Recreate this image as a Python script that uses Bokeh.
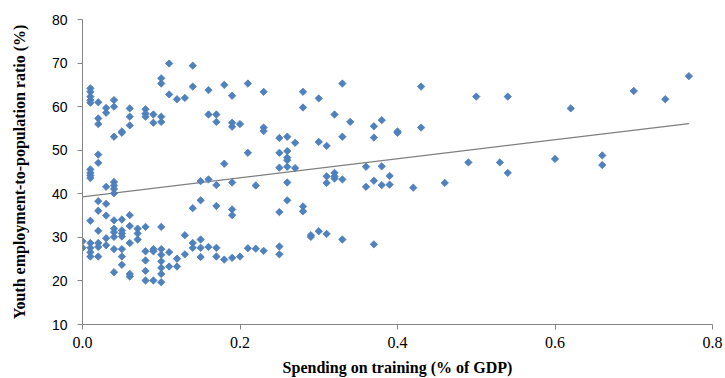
import math
from bokeh.plotting import figure
from bokeh.models import Range1d, ColumnDataSource, FixedTicker, PrintfTickFormatter
from bokeh.embed import file_html
from bokeh.resources import INLINE

# Spending on training (% of GDP) and youth employment-to-population ratio (%)
x_spend = (
    [0.00] * 2 + [0.01] * 14 + [0.02] * 11 + [0.03] * 7 + [0.04] * 13 + [0.05] * 9
    + [0.06] * 8 + [0.07] * 3 + [0.08] * 8 + [0.09] * 5 + [0.10] * 11 + [0.11] * 4
    + [0.12] * 3 + [0.13] * 3 + [0.14] * 5 + [0.15] * 5 + [0.16] * 4 + [0.17] * 6
    + [0.18] * 3 + [0.19] * 7 + [0.20] * 2 + [0.21] * 3 + [0.22] * 2 + [0.23] * 4
    + [0.25] * 6 + [0.26] * 7 + [0.27] * 2 + [0.28] * 4 + [0.29] * 2 + [0.30] * 3
    + [0.31] * 4 + [0.32] * 4 + [0.33] * 4 + [0.34] * 1 + [0.36] * 2 + [0.37] * 4
    + [0.38] * 3 + [0.39] * 2 + [0.40] * 2 + [0.42] * 1 + [0.43] * 2 + [0.46] * 1
    + [0.49] * 1 + [0.50] * 1 + [0.53] * 1 + [0.54] * 2 + [0.60] * 1 + [0.62] * 1
    + [0.66] * 2 + [0.70] * 1 + [0.74] * 1 + [0.77] * 1
)
y_youth = [
    29.1, 27.6,
    64.2, 63.4, 62.3, 61.5, 60.9, 45.6, 44.8, 44.2, 43.6, 33.8, 28.7, 27.6, 26.6, 25.6,
    61.0, 57.3, 56.0, 49.0, 47.1, 38.3, 36.1, 31.5, 28.7, 27.8, 25.6,
    59.7, 58.6, 41.6, 37.7, 35.0, 29.8, 28.2,
    61.5, 60.0, 53.1, 42.7, 41.9, 41.1, 40.1, 33.9, 32.0, 31.2, 30.1, 27.3, 22.0,
    54.0, 54.3, 34.1, 31.6, 30.9, 30.2, 27.3, 25.6, 23.7,
    59.6, 57.7, 55.7, 35.1, 32.6, 28.7, 21.6, 21.0,
    32.0, 30.9, 29.5,
    59.4, 58.4, 57.7, 32.4, 26.8, 24.7, 22.3, 20.1,
    58.2, 56.3, 27.3, 26.8, 20.1,
    66.5, 65.3, 57.7, 56.5, 32.4, 27.3, 26.0, 24.5, 23.0, 21.6, 19.7,
    69.9, 62.8, 26.6, 23.3,
    61.7, 25.1, 23.3,
    62.0, 30.5, 26.1,
    69.4, 64.6, 36.7, 28.7, 27.6,
    42.9, 38.5, 29.5, 27.6, 25.5,
    63.8, 58.2, 43.3, 27.8,
    58.2, 56.5, 42.0, 37.2, 27.6, 25.6,
    65.0, 46.9, 24.9,
    62.5, 56.3, 55.4, 42.6, 36.4, 35.1, 25.3,
    56.0, 25.6,
    65.3, 49.4, 27.5,
    41.9, 27.4,
    63.4, 55.2, 54.4, 26.9,
    52.8, 49.4, 46.0, 35.8, 27.9, 26.1,
    53.1, 49.8, 48.3, 47.7, 46.2, 42.6, 38.5,
    51.7, 45.9,
    63.4, 59.8, 37.1, 36.0,
    30.5, 30.1,
    61.9, 51.9, 31.4,
    51.0, 44.0, 42.5, 30.8,
    58.2, 44.8, 44.0, 43.5,
    65.3, 53.1, 43.3, 29.5,
    56.5,
    46.2, 41.6,
    55.5, 52.9, 43.0, 28.4,
    56.9, 46.3, 42.0,
    44.1, 42.1,
    54.3, 54.0,
    41.4,
    64.6, 55.2,
    42.5,
    47.2,
    62.3,
    47.2,
    62.3, 44.8,
    48.0,
    59.6,
    48.8, 46.6,
    63.6,
    61.7,
    67.0,
]

# Linear trend line
trend_x = [0.0, 0.77]
trend_y = [39.3, 56.1]

x_ticks = [0.0, 0.2, 0.4, 0.6, 0.8]
y_ticks = [10, 20, 30, 40, 50, 60, 70, 80]

p = figure(
    width=725, height=378,
    x_range=Range1d(0, 0.8), y_range=Range1d(10, 80),
    output_backend="svg", toolbar_location=None,
    min_border_left=82, min_border_right=13, min_border_top=19, min_border_bottom=54,
)
p.background_fill_color = "white"
p.border_fill_color = "white"
p.outline_line_color = None
p.grid.visible = False

p.line(trend_x, trend_y, line_color="#7F7F7F", line_width=1.2)

src = ColumnDataSource(dict(x=x_spend, y=y_youth))
p.scatter("x", "y", source=src, marker="square", size=5.2, angle=math.pi / 4,
          fill_color="#4F81BD", line_color="#4A7EBB", line_width=0.8)

for ax in (p.xaxis[0], p.yaxis[0]):
    ax.axis_line_color = "#868686"
    ax.major_tick_line_color = "#868686"
    ax.minor_tick_line_color = None
    ax.major_tick_in = 0
    ax.major_tick_out = 5
    ax.major_label_text_color = "black"
    ax.axis_label_text_color = "black"
    ax.axis_label_text_font = "Liberation Serif"
    ax.axis_label_text_font_style = "bold"
    ax.axis_label_text_font_size = "16px"

p.xaxis.ticker = FixedTicker(ticks=x_ticks)
p.xaxis.formatter = PrintfTickFormatter(format="%.1f")
p.xaxis.major_label_text_font = "Liberation Serif"
p.xaxis.major_label_text_font_size = "16px"
p.xaxis.major_label_standoff = 7
p.xaxis.axis_label = "Spending on training (% of GDP)"
p.xaxis.axis_label_standoff = 8

p.yaxis.ticker = FixedTicker(ticks=y_ticks)
p.yaxis.major_label_text_font = "Liberation Sans"
p.yaxis.major_label_text_font_size = "14px"
p.yaxis.major_label_standoff = 10
p.yaxis.axis_label = "Youth employment-to-population ratio (%)"
p.yaxis.axis_label_standoff = 21

open("out.html", "w").write(file_html(p, INLINE))
